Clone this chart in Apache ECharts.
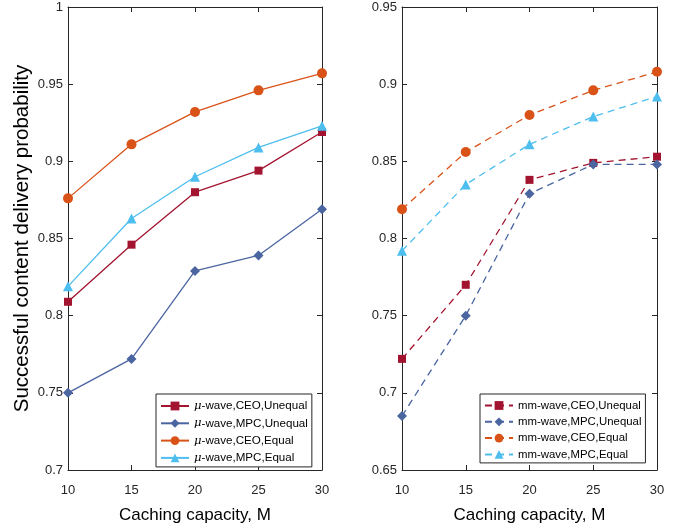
<!DOCTYPE html>
<html><head><meta charset="utf-8">
<script src="https://cdn.jsdelivr.net/npm/echarts@6/dist/echarts.min.js"></script>
<style>html,body{margin:0;padding:0;background:#fff}#c{width:683px;height:529px}</style>
</head><body><div id="c"></div>
<script>
const xCats = [10, 15, 20, 25, 30];
const muCeoUnequal = [0.809, 0.846, 0.880, 0.894, 0.919];
const muMpcUnequal = [0.750, 0.772, 0.829, 0.839, 0.869];
const muCeoEqual   = [0.876, 0.911, 0.932, 0.946, 0.957];
const muMpcEqual   = [0.819, 0.863, 0.890, 0.909, 0.923];
const mmCeoUnequal = [0.722, 0.770, 0.838, 0.849, 0.853];
const mmMpcUnequal = [0.685, 0.750, 0.829, 0.848, 0.848];
const mmCeoEqual   = [0.819, 0.856, 0.880, 0.896, 0.908];
const mmMpcEqual   = [0.792, 0.835, 0.861, 0.879, 0.892];
const namesMu = ['μ-wave,CEO,Unequal','μ-wave,MPC,Unequal','μ-wave,CEO,Equal','μ-wave,MPC,Equal'];
const namesMm = ['mm-wave,CEO,Unequal','mm-wave,MPC,Unequal','mm-wave,CEO,Equal','mm-wave,MPC,Equal'];
const xLabel = 'Caching capacity, M';
const yLabel = 'Successful content delivery probability';

const colors = ['#A2142F', '#4A65A0', '#D95319', '#4DBEEE'];
const symbols = ['rect', 'diamond', 'circle', 'triangle'];
const symSizes = [8, 10, 10, 10];
const FONT = 'Liberation Sans, Arial, sans-serif';
const txt = '#262626';

function pairs(v){ return xCats.map((x,i)=>[x, v[i]]); }

const chart = echarts.init(document.getElementById('c'), null, {renderer:'canvas'});
const grids = [
  {left:68, right:361, top:7, bottom:53.5},
  {left:402, right:26, top:7, bottom:53.5}
];
const xAxes = [], yAxes = [];
[0,1].forEach(g=>{
  xAxes.push({gridIndex:g, type:'value', min:10, max:30, interval:5, position:'bottom',
    name:xLabel, nameLocation:'middle', nameGap:37,
    nameTextStyle:{fontFamily:FONT, fontSize:17, color:'#000'},
    axisLine:{onZero:false, lineStyle:{color:'#262626', width:1}},
    axisTick:{inside:true, length:5, lineStyle:{color:'#262626'}},
    axisLabel:{fontFamily:FONT, fontSize:13, color:txt, margin:14},
    splitLine:{show:false}});
  xAxes.push({gridIndex:g, type:'value', min:10, max:30, interval:5, position:'top',
    axisLine:{onZero:false, lineStyle:{color:'#262626', width:1}},
    axisTick:{inside:true, length:5, lineStyle:{color:'#262626'}},
    axisLabel:{show:false}, splitLine:{show:false}});
  const ymin = g===0 ? 0.7 : 0.65, ymax = g===0 ? 1 : 0.95;
  yAxes.push({gridIndex:g, type:'value', min:ymin, max:ymax, interval:0.05, position:'left',
    name: g===0 ? yLabel : '', nameLocation:'middle', nameGap:35,
    nameTextStyle:{fontFamily:FONT, fontSize:20.5, color:'#000'},
    axisLine:{show:true, onZero:false, lineStyle:{color:'#262626', width:1}},
    axisTick:{show:true, inside:true, length:5, lineStyle:{color:'#262626'}},
    axisLabel:{fontFamily:FONT, fontSize:13, color:txt, margin:5,
      formatter:v=>String(+v.toFixed(2))},
    splitLine:{show:false}});
  yAxes.push({gridIndex:g, type:'value', min:ymin, max:ymax, interval:0.05, position:'right',
    axisLine:{show:true, onZero:false, lineStyle:{color:'#262626', width:1}},
    axisTick:{show:true, inside:true, length:5, lineStyle:{color:'#262626'}},
    axisLabel:{show:false}, splitLine:{show:false}});
});

const series = [];
const muData = [muCeoUnequal, muMpcUnequal, muCeoEqual, muMpcEqual];
const mmData = [mmCeoUnequal, mmMpcUnequal, mmCeoEqual, mmMpcEqual];
muData.forEach((d,i)=>series.push({name:namesMu[i], type:'line', xAxisIndex:0, yAxisIndex:0,
  data:pairs(d), symbol:symbols[i], symbolSize:symSizes[i], showSymbol:true,
  itemStyle:{color:colors[i]}, lineStyle:{color:colors[i], width:1.3}, animation:false}));
mmData.forEach((d,i)=>series.push({name:namesMm[i], type:'line', xAxisIndex:2, yAxisIndex:2,
  data:pairs(d), symbol:symbols[i], symbolSize:symSizes[i], showSymbol:true,
  itemStyle:{color:colors[i]}, lineStyle:{color:colors[i], width:1.3, type:[7,5]}, animation:false}));

const legendBase = {orient:'vertical', itemWidth:28, itemHeight:11, itemGap:5.3,
  backgroundColor:'#fff', borderColor:'#262626', borderWidth:1, padding:[6,4,3,4],
  textStyle:{fontFamily:FONT, fontSize:11.4, color:'#000'}};
chart.setOption({
  animation:false,
  grid:grids, xAxis:xAxes, yAxis:yAxes, series:series,
  legend:[
    Object.assign({}, legendBase, {data:namesMu, left:156, top:394,
      formatter:n=>'{i|μ}'+n.slice(1),
      textStyle:{fontFamily:FONT, fontSize:11.6, color:'#000', rich:{i:{fontStyle:'italic', fontFamily:'DejaVu Serif, serif', fontSize:11.6}}}}),
    Object.assign({}, legendBase, {data:namesMm, left:480, top:394})
  ]
});
</script></body></html>
